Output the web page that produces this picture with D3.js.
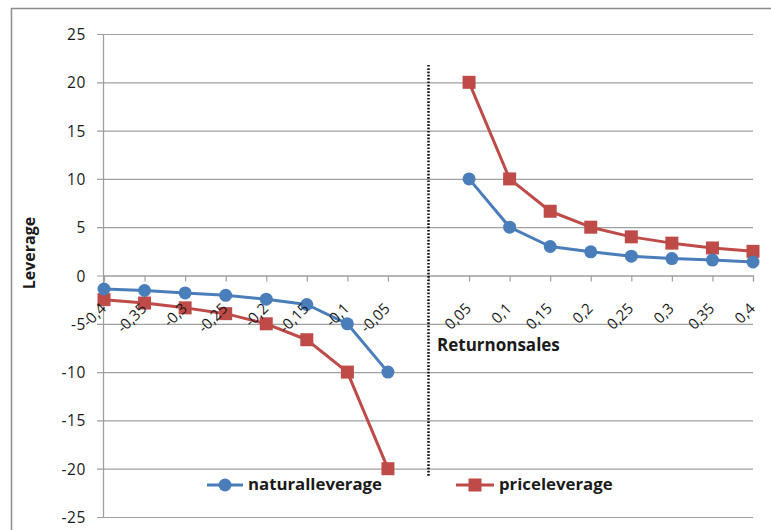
<!DOCTYPE html>
<html><head><meta charset="utf-8">
<script src="https://cdn.jsdelivr.net/npm/d3@7"></script>
<style>
html,body{margin:0;padding:0;background:#fff;}
svg{display:block;font-family:"Open Sans",Lato,sans-serif;}
</style></head>
<body><svg id="chart" width="771" height="530"></svg>
<script>
const categories = ["-0,4","-0,35","-0,3","-0,25","-0,2","-0,15","-0,1","-0,05","0","0,05","0,1","0,15","0,2","0,25","0,3","0,35","0,4"];
const tickLabels = ["-0,4","-0,35","-0,3","-0,25","-0,2","-0,15","-0,1","-0,05","","0,05","0,1","0,15","0,2","0,25","0,3","0,35","0,4"];
const naturalLeverage = [-1.4,-1.55,-1.8,-2.05,-2.45,-3.0,-5,-10,null,10,5,3.0,2.45,2.0,1.75,1.6,1.4];
const priceLeverage = [-2.5,-2.85,-3.35,-3.95,-5,-6.65,-10,-20,null,20,10,6.65,5,4,3.35,2.85,2.5];
const yTicks = [25,20,15,10,5,0,-5,-10,-15,-20,-25];
const dividerCategory = "0";
const dividerRange = [21.8,-20.8];
const seriesNames = ["naturalleverage","priceleverage"];

const svg = d3.select("#chart");
const x = d3.scalePoint().domain(categories).range([104,753]);
const y = d3.scaleLinear().domain([-25,25]).range([517,34]);
const blue = "#4A7EBB", red = "#BE4B48";
const txt = "#1a1a1a";

// outer border
svg.append("path").attr("d","M11.5,531 V8.5 H772").attr("fill","none").attr("stroke","#8c8c8c").attr("stroke-width",1.5);

// gridlines + y ticks
const yAxis = d3.axisLeft(y).tickValues(yTicks).tickSize(-(753-97)).tickPadding(11).tickFormat(d=>d);
const gy = svg.append("g").attr("transform","translate(97,0)").call(yAxis);
gy.select(".domain").remove();
gy.selectAll(".tick line").attr("stroke","#a0a0a0").attr("stroke-width",1.2);
gy.selectAll(".tick text").attr("font-size",15.5).attr("font-weight",500).attr("fill",txt)
  .attr("x",-11).attr("dy","0.36em").attr("letter-spacing","0.6px").attr("font-family","'Open Sans',sans-serif");
// vertical axis line
svg.append("line").attr("x1",103.5).attr("x2",103.5).attr("y1",y(25)).attr("y2",y(-25)).attr("stroke","#a0a0a0").attr("stroke-width",1.3);

// x axis at 0
const xAxis = d3.axisBottom(x).tickSize(6).tickFormat((d,i)=>tickLabels[i]);
const gx = svg.append("g").attr("transform",`translate(0,${y(0)})`).call(xAxis);
gx.select(".domain").attr("stroke","#a0a0a0").attr("stroke-width",1.2);
gx.selectAll(".tick line").attr("stroke","#a0a0a0").attr("stroke-width",1.2);
gx.selectAll(".tick text").remove();

// divider
svg.append("line").attr("x1",x(dividerCategory)).attr("x2",x(dividerCategory))
  .attr("y1",y(dividerRange[0])).attr("y2",y(dividerRange[1]))
  .attr("stroke","#111").attr("stroke-width",2.5).attr("stroke-dasharray","1.7,1.6");

// lines
const line = d3.line().defined(d=>d.v!==null).x(d=>x(d.c)).y(d=>y(d.v));
const nat = categories.map((c,i)=>({c,v:naturalLeverage[i]}));
const pri = categories.map((c,i)=>({c,v:priceLeverage[i]}));
svg.append("path").datum(pri).attr("d",line).attr("fill","none").attr("stroke",red).attr("stroke-width",3).attr("stroke-linejoin","round");
svg.append("g").selectAll("rect").data(pri.filter(d=>d.v!==null)).join("rect")
  .attr("x",d=>x(d.c)-6.5).attr("y",d=>y(d.v)-6.5).attr("width",13).attr("height",13).attr("fill",red);
svg.append("path").datum(nat).attr("d",line).attr("fill","none").attr("stroke",blue).attr("stroke-width",3).attr("stroke-linejoin","round");
svg.append("g").selectAll("circle").data(nat.filter(d=>d.v!==null)).join("circle")
  .attr("cx",d=>x(d.c)).attr("cy",d=>y(d.v)).attr("r",6.5).attr("fill",blue);

// x tick labels on top
svg.append("g").selectAll("text").data(categories.map((c,i)=>({c,l:tickLabels[i]}))).join("text")
  .attr("transform",d=>`translate(${x(d.c)+3},${y(0)+34}) rotate(-45)`)
  .attr("text-anchor","end").attr("font-size",15).attr("font-weight",500).attr("fill",txt).text(d=>d.l);

// axis titles
svg.append("text").attr("transform","translate(35,253) rotate(-90)").attr("text-anchor","middle")
  .attr("font-size",16).attr("font-weight","bold").attr("fill",txt).text("Leverage");
svg.append("text").attr("x",437).attr("y",351).attr("font-size",17).attr("font-weight","bold").attr("fill",txt).text("Returnonsales");

// legend
const lg = svg.append("g");
lg.append("line").attr("x1",207).attr("x2",243).attr("y1",485).attr("y2",485).attr("stroke",blue).attr("stroke-width",3);
lg.append("circle").attr("cx",225).attr("cy",485).attr("r",6.5).attr("fill",blue);
lg.append("text").attr("x",248).attr("y",490).attr("font-size",16.8).attr("font-weight","bold").attr("fill",txt).text(seriesNames[0]);
lg.append("line").attr("x1",456).attr("x2",494).attr("y1",485).attr("y2",485).attr("stroke",red).attr("stroke-width",3);
lg.append("rect").attr("x",468.5).attr("y",478.5).attr("width",13).attr("height",13).attr("fill",red);
lg.append("text").attr("x",499).attr("y",490).attr("font-size",16.8).attr("font-weight","bold").attr("fill",txt).text(seriesNames[1]);
</script></body></html>
